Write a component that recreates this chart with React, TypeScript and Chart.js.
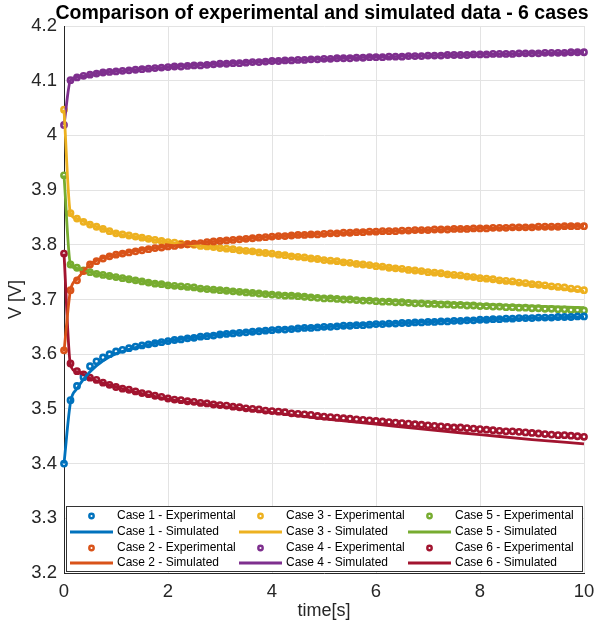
import React, { useEffect, useRef } from "react";
import { Chart, registerables } from "chart.js";
Chart.register(...registerables);

const FONT = "'Liberation Sans', Arial, Helvetica, sans-serif";
const TITLE = "Comparison of experimental and simulated data - 6 cases";
const X_LABEL = "time[s]";
const Y_LABEL = "V [V]";

const time = [
  0, 0.125, 0.25, 0.375, 0.5, 0.625, 0.75, 0.875,
  1, 1.125, 1.25, 1.375, 1.5, 1.625, 1.75, 1.875,
  2, 2.125, 2.25, 2.375, 2.5, 2.625, 2.75, 2.875,
  3, 3.125, 3.25, 3.375, 3.5, 3.625, 3.75, 3.875,
  4, 4.125, 4.25, 4.375, 4.5, 4.625, 4.75, 4.875,
  5, 5.125, 5.25, 5.375, 5.5, 5.625, 5.75, 5.875,
  6, 6.125, 6.25, 6.375, 6.5, 6.625, 6.75, 6.875,
  7, 7.125, 7.25, 7.375, 7.5, 7.625, 7.75, 7.875,
  8, 8.125, 8.25, 8.375, 8.5, 8.625, 8.75, 8.875,
  9, 9.125, 9.25, 9.375, 9.5, 9.625, 9.75, 9.875,
  10,
];

const case1Exp = [
  3.400, 3.516, 3.542, 3.558, 3.578, 3.587, 3.594, 3.600,
  3.605, 3.608, 3.611, 3.614, 3.616, 3.618, 3.620, 3.622,
  3.624, 3.626, 3.627, 3.629, 3.630, 3.632, 3.633, 3.634,
  3.636, 3.637, 3.638, 3.639, 3.640, 3.641, 3.642, 3.643,
  3.644, 3.645, 3.645, 3.646, 3.647, 3.648, 3.648, 3.649,
  3.650, 3.650, 3.651, 3.652, 3.652, 3.653, 3.653, 3.654,
  3.655, 3.655, 3.656, 3.656, 3.657, 3.657, 3.658, 3.658,
  3.659, 3.659, 3.660, 3.660, 3.661, 3.661, 3.662, 3.662,
  3.663, 3.663, 3.664, 3.664, 3.665, 3.665, 3.666, 3.666,
  3.666, 3.667, 3.667, 3.667, 3.668, 3.668, 3.668, 3.669,
  3.669,
];
const case2Exp = [
  3.607, 3.717, 3.735, 3.752, 3.764, 3.770, 3.775, 3.779,
  3.782, 3.784, 3.786, 3.788, 3.790, 3.792, 3.794, 3.795,
  3.797, 3.798, 3.800, 3.801, 3.802, 3.803, 3.805, 3.806,
  3.807, 3.808, 3.809, 3.810, 3.811, 3.812, 3.813, 3.814,
  3.815, 3.816, 3.816, 3.817, 3.818, 3.818, 3.819, 3.819,
  3.820, 3.821, 3.821, 3.822, 3.822, 3.823, 3.823, 3.824,
  3.824, 3.825, 3.825, 3.825, 3.826, 3.826, 3.827, 3.827,
  3.827, 3.828, 3.828, 3.828, 3.829, 3.829, 3.829, 3.830,
  3.830, 3.830, 3.831, 3.831, 3.831, 3.832, 3.832, 3.832,
  3.832, 3.833, 3.833, 3.833, 3.833, 3.834, 3.834, 3.834,
  3.834,
];
const case3Exp = [
  4.047, 3.858, 3.848, 3.842, 3.837, 3.833, 3.829, 3.825,
  3.821, 3.819, 3.817, 3.815, 3.813, 3.811, 3.809, 3.807,
  3.805, 3.804, 3.802, 3.801, 3.800, 3.798, 3.797, 3.796,
  3.794, 3.793, 3.792, 3.790, 3.789, 3.788, 3.786, 3.785,
  3.784, 3.782, 3.781, 3.779, 3.778, 3.777, 3.775, 3.774,
  3.772, 3.771, 3.770, 3.768, 3.767, 3.765, 3.764, 3.763,
  3.761, 3.760, 3.758, 3.757, 3.756, 3.754, 3.753, 3.752,
  3.750, 3.749, 3.748, 3.746, 3.745, 3.744, 3.742, 3.741,
  3.739, 3.738, 3.737, 3.735, 3.734, 3.733, 3.731, 3.730,
  3.728, 3.727, 3.726, 3.724, 3.723, 3.722, 3.720, 3.719,
  3.717,
];
const case4Exp = [
  4.019, 4.101, 4.106, 4.109, 4.111, 4.113, 4.115, 4.116,
  4.117, 4.118, 4.119, 4.120, 4.121, 4.122, 4.123, 4.124,
  4.125, 4.126, 4.126, 4.127, 4.128, 4.128, 4.129, 4.130,
  4.131, 4.131, 4.132, 4.132, 4.133, 4.134, 4.134, 4.135,
  4.136, 4.136, 4.137, 4.137, 4.138, 4.138, 4.139, 4.139,
  4.140, 4.140, 4.141, 4.141, 4.141, 4.142, 4.142, 4.143,
  4.143, 4.143, 4.144, 4.144, 4.144, 4.145, 4.145, 4.145,
  4.146, 4.146, 4.146, 4.147, 4.147, 4.147, 4.147, 4.148,
  4.148, 4.148, 4.149, 4.149, 4.149, 4.149, 4.150, 4.150,
  4.150, 4.150, 4.151, 4.151, 4.151, 4.151, 4.152, 4.152,
  4.152,
];
const case5Exp = [
  3.927, 3.764, 3.758, 3.753, 3.750, 3.747, 3.745, 3.743,
  3.741, 3.739, 3.737, 3.735, 3.733, 3.731, 3.729, 3.728,
  3.726, 3.725, 3.724, 3.723, 3.722, 3.720, 3.719, 3.718,
  3.717, 3.716, 3.715, 3.714, 3.713, 3.712, 3.711, 3.710,
  3.709, 3.708, 3.707, 3.707, 3.706, 3.705, 3.704, 3.703,
  3.702, 3.702, 3.701, 3.700, 3.700, 3.699, 3.698, 3.698,
  3.697, 3.696, 3.696, 3.695, 3.695, 3.694, 3.693, 3.693,
  3.692, 3.692, 3.691, 3.691, 3.690, 3.690, 3.689, 3.689,
  3.688, 3.688, 3.687, 3.687, 3.686, 3.686, 3.685, 3.685,
  3.684, 3.684, 3.683, 3.683, 3.682, 3.682, 3.681, 3.681,
  3.680,
];
const case6Exp = [
  3.784, 3.583, 3.569, 3.563, 3.557, 3.553, 3.548, 3.544,
  3.540, 3.537, 3.535, 3.532, 3.529, 3.527, 3.524, 3.522,
  3.519, 3.517, 3.516, 3.514, 3.513, 3.511, 3.510, 3.508,
  3.507, 3.506, 3.504, 3.503, 3.501, 3.500, 3.499, 3.497,
  3.496, 3.495, 3.494, 3.492, 3.491, 3.490, 3.489, 3.487,
  3.486, 3.485, 3.484, 3.483, 3.482, 3.481, 3.480, 3.479,
  3.478, 3.477, 3.476, 3.475, 3.474, 3.473, 3.472, 3.471,
  3.470, 3.469, 3.468, 3.467, 3.466, 3.466, 3.465, 3.464,
  3.463, 3.462, 3.461, 3.460, 3.459, 3.459, 3.458, 3.457,
  3.456, 3.455, 3.454, 3.453, 3.452, 3.452, 3.451, 3.450,
  3.449,
];

const simTime = [0, 0.125, 0.25, 0.5, 0.75, 1, 1.5, 2, 3, 4, 5, 6, 7, 8, 9, 10];
const case1Sim = [3.400, 3.512, 3.537, 3.568, 3.588, 3.601, 3.615, 3.624, 3.636, 3.644, 3.650, 3.655, 3.659, 3.663, 3.666, 3.668];
const case2Sim = [3.605, 3.717, 3.737, 3.764, 3.776, 3.782, 3.791, 3.797, 3.807, 3.815, 3.820, 3.824, 3.827, 3.830, 3.832, 3.834];
const case3Sim = [4.047, 3.857, 3.848, 3.837, 3.829, 3.821, 3.813, 3.805, 3.794, 3.784, 3.772, 3.761, 3.750, 3.739, 3.727, 3.715];
const case4Sim = [4.019, 4.101, 4.106, 4.111, 4.115, 4.117, 4.121, 4.125, 4.131, 4.136, 4.140, 4.143, 4.146, 4.148, 4.150, 4.152];
const case5Sim = [3.927, 3.764, 3.757, 3.750, 3.745, 3.741, 3.733, 3.726, 3.717, 3.710, 3.704, 3.699, 3.695, 3.691, 3.688, 3.685];
const case6Sim = [3.784, 3.580, 3.568, 3.556, 3.547, 3.540, 3.528, 3.518, 3.505, 3.493, 3.482, 3.472, 3.462, 3.453, 3.444, 3.436];

const caseNames = ["Case 1", "Case 2", "Case 3", "Case 4", "Case 5", "Case 6"];
const colors = ["#0072BD", "#D95319", "#EDB120", "#7E2F8E", "#77AC30", "#A2142F"];

const expSeries = [case1Exp, case2Exp, case3Exp, case4Exp, case5Exp, case6Exp];
const simSeries = [case1Sim, case2Sim, case3Sim, case4Sim, case5Sim, case6Sim];

const overlayPlugin = {
  id: "overlay",
  afterDraw(chart: any) {
    const c = chart.ctx as CanvasRenderingContext2D;
    const a = chart.chartArea;
    c.save();
    c.font = `bold 19.5px ${FONT}`;
    c.fillStyle = "#000";
    c.textAlign = "center";
    c.textBaseline = "middle";
    c.fillText(TITLE, 322, 14);
    c.font = `18px ${FONT}`;
    c.fillStyle = "#262626";
    c.fillText(X_LABEL, (a.left + a.right) / 2, 611);
    c.save();
    c.translate(16, (a.top + a.bottom) / 2);
    c.rotate(-Math.PI / 2);
    c.fillText(Y_LABEL, 0, 0);
    c.restore();

    const bx = 66, by = 506, bw = 516, bh = 65;
    c.fillStyle = "#fff";
    c.fillRect(bx, by, bw, bh);
    c.strokeStyle = "#333";
    c.lineWidth = 1;
    c.strokeRect(bx + 0.5, by + 0.5, bw, bh);
    const colX = [70, 239, 408];
    const rowY = [516, 532, 548, 563];
    c.font = `12px ${FONT}`;
    c.textAlign = "left";
    c.textBaseline = "middle";
    for (let col = 0; col < 3; col++) {
      for (let k = 0; k < 2; k++) {
        const i = col * 2 + k;
        const x0 = colX[col];
        const yE = rowY[k * 2];
        const yS = rowY[k * 2 + 1];
        c.beginPath();
        c.arc(x0 + 21.5, yE, 2.2, 0, Math.PI * 2);
        c.fillStyle = "#fff";
        c.fill();
        c.strokeStyle = colors[i];
        c.lineWidth = 2.4;
        c.stroke();
        c.beginPath();
        c.moveTo(x0, yS);
        c.lineTo(x0 + 43, yS);
        c.strokeStyle = colors[i];
        c.lineWidth = 2.8;
        c.stroke();
        c.fillStyle = "#000";
        c.fillText(`${caseNames[i]} - Experimental`, x0 + 47, yE);
        c.fillText(`${caseNames[i]} - Simulated`, x0 + 47, yS);
      }
    }
    c.restore();
  },
};

export default function App() {
  const ref = useRef<HTMLCanvasElement>(null);
  useEffect(() => {
    const canvas = ref.current!;
    const datasets: any[] = [];
    for (let i = 0; i < 6; i++) {
      datasets.push({
        label: `${caseNames[i]} - Experimental`,
        data: time.map((t, j) => ({ x: t, y: expSeries[i][j] })),
        showLine: false,
        pointRadius: 2.6,
        pointBorderWidth: 2.6,
        pointBackgroundColor: "#fff",
        pointBorderColor: colors[i],
        borderColor: colors[i],
        backgroundColor: colors[i],
        order: 2,
        clip: 8,
      });
      datasets.push({
        label: `${caseNames[i]} - Simulated`,
        data: simTime.map((t, j) => ({ x: t, y: simSeries[i][j] })),
        showLine: true,
        pointRadius: 0,
        borderWidth: 2.8,
        borderColor: colors[i],
        backgroundColor: colors[i],
        cubicInterpolationMode: "monotone",
        order: 1,
        clip: 8,
      });
    }
    const chart = new Chart(canvas, {
      type: "scatter",
      data: { datasets },
      options: {
        animation: false,
        responsive: false,
        devicePixelRatio: 1,
        layout: { padding: { top: 26, right: 11, left: 0, bottom: 0 } },
        plugins: { legend: { display: false }, title: { display: false }, tooltip: { enabled: false } },
        scales: {
          x: {
            type: "linear",
            min: 0,
            max: 10,
            ticks: { stepSize: 2, color: "#262626", font: { family: FONT, size: 18.5 }, padding: 8, maxRotation: 0 },
            grid: { color: "#e3e3e3", drawTicks: false },
            border: { color: "#262626", width: 1 },
            afterFit: (s: any) => {
              s.height = 54;
              s.paddingLeft = 0;
              s.paddingRight = 0;
            },
          },
          y: {
            type: "linear",
            min: 3.2,
            max: 4.2,
            ticks: {
              stepSize: 0.1,
              color: "#262626",
              font: { family: FONT, size: 18.5 },
              padding: 7,
              callback: (v: any) => String(Number(Number(v).toFixed(1))),
            },
            grid: { color: "#e3e3e3", drawTicks: false },
            border: { color: "#262626", width: 1 },
            afterFit: (s: any) => {
              s.width = 64;
              s.paddingTop = 0;
              s.paddingBottom = 0;
            },
          },
        },
      },
      plugins: [overlayPlugin],
    });
    return () => chart.destroy();
  }, []);
  return (
    <div style={{ position: "fixed", left: 0, top: 0, width: 595, height: 627, background: "#fff" }}>
      <canvas ref={ref} width={595} height={627} style={{ width: 595, height: 627, display: "block" }} />
    </div>
  );
}
